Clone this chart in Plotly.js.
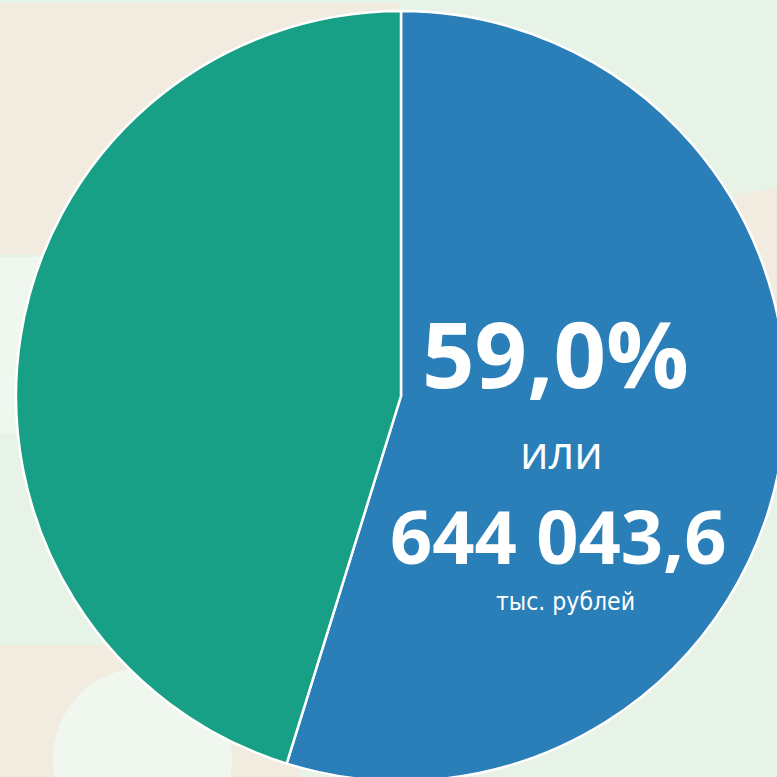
<!DOCTYPE html>
<html>
<head>
<meta charset="utf-8">
<script src="https://cdn.plot.ly/plotly-3.0.1.min.js"></script>
<style>
html,body{margin:0;padding:0;overflow:hidden;width:777px;height:777px;background:#F1EBE0;}
#chart{width:800px;height:800px;}
</style>
</head>
<body>
<div id="chart"></div>
<script>
// ---- data ----
const categories = ["Сегмент 1", "Сегмент 2"];
const shares = [54.8, 45.2];            // slice sizes as drawn (percent of circle)
const sliceColors = ["#2B7FB8", "#17A085"];
const labelPercent = "59,0%";
const labelOr = "или";
const labelAmount = "644 043,6";
const labelUnit = "тыс. рублей";

// ---- helpers for pixel -> paper conversion ----
const W = 800, H = 800;
const px = v => v / W;
const py = v => 1 - v / H;

const beige = "#F1EBE0", lgreen = "#E8F3E7", lighter = "#EFF7EF";

const shapes = [
  // right-hand light green area
  {type:"path", xref:"paper", yref:"paper", layer:"below", line:{width:0}, fillcolor:lgreen,
   path:`M ${px(400)},${py(0)} L ${px(800)},${py(0)} L ${px(800)},${py(800)} L ${px(300)},${py(800)} L ${px(300)},${py(640)} Z`},
  // thin top strip
  {type:"rect", xref:"paper", yref:"paper", layer:"below", line:{width:0}, fillcolor:lgreen,
   x0:0, x1:1, y0:py(0), y1:py(3)},
  // beige band on right
  {type:"circle", xref:"paper", yref:"paper", layer:"below", line:{width:0}, fillcolor:beige,
   x0:px(500), x1:px(1300), y0:py(181), y1:py(480)},
  // left green bands
  {type:"rect", xref:"paper", yref:"paper", layer:"below", line:{width:0}, fillcolor:lgreen,
   x0:0, x1:px(420), y0:py(645), y1:py(255)},
  {type:"rect", xref:"paper", yref:"paper", layer:"below", line:{width:0}, fillcolor:lighter,
   x0:0, x1:px(420), y0:py(434), y1:py(257)},
  // bottom-left whitish rounded shape
  {type:"circle", xref:"paper", yref:"paper", layer:"below", line:{width:0}, fillcolor:lighter,
   x0:px(53), x1:px(232), y0:py(668), y1:py(850)}
];

const trace = {
  type: "pie",
  labels: categories,
  values: shares,
  sort: false,
  direction: "clockwise",
  rotation: 0,
  textinfo: "none",
  hoverinfo: "none",
  showlegend: false,
  marker: {colors: sliceColors, line: {color: "#FFFFFF", width: 2.5}},
  domain: {x: [px(16), px(786)], y: [py(781), py(11)]}
};

const white = "#FFFFFF";
const annotations = [
  {text: labelPercent, x: px(555), y: py(353), xref:"paper", yref:"paper", showarrow:false,
   xanchor:"center", yanchor:"middle", font:{family:"Open Sans", size:92, color:white, weight:700}},
  {text: labelOr, x: px(561), y: py(451), xref:"paper", yref:"paper", showarrow:false,
   xanchor:"center", yanchor:"middle", font:{family:"Open Sans", size:45, color:white}},
  {text: labelAmount, x: px(558), y: py(535), xref:"paper", yref:"paper", showarrow:false,
   xanchor:"center", yanchor:"middle", font:{family:"Open Sans", size:74, color:white, weight:700}},
  {text: labelUnit, x: px(565), y: py(601), xref:"paper", yref:"paper", showarrow:false,
   xanchor:"center", yanchor:"middle", font:{family:"Liberation Sans Narrow, DejaVu Sans Condensed, sans-serif", size:24.5, color:white}}
];

const layout = {
  width: W, height: H,
  margin: {l:0, r:0, t:0, b:0, pad:0},
  paper_bgcolor: beige,
  plot_bgcolor: beige,
  shapes: shapes,
  annotations: annotations,
  showlegend: false
};

Plotly.newPlot("chart", [trace], layout, {staticPlot: true, displayModeBar: false});
</script>
</body>
</html>
